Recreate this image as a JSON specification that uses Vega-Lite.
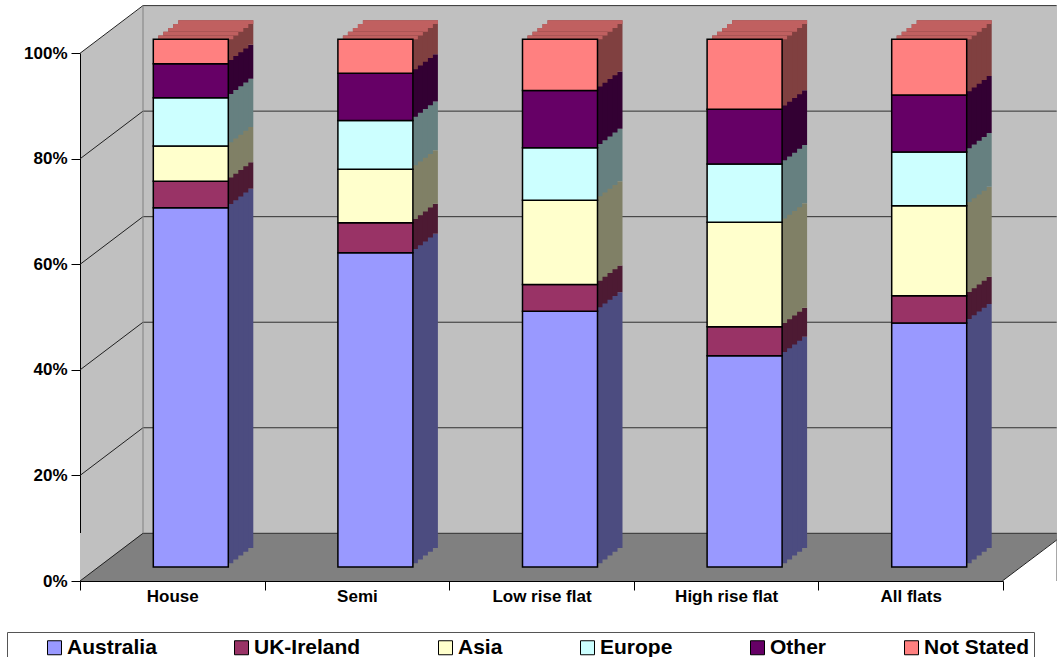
{
  "$schema": "https://vega.github.io/schema/vega-lite/v6.json",
  "width": 977,
  "height": 575,
  "autosize": {"type": "none"},
  "padding": {"left": 80, "top": 6, "right": 0, "bottom": 76},
  "background": "white",
  "config": {"view": {"fill": "#C0C0C0", "stroke": null}},
  "resolve": {"scale": {"color": "independent"}},
  "datasets": {
    "grid": [{"g": 0}, {"g": 0.2}, {"g": 0.4}, {"g": 0.6}, {"g": 0.8}, {"g": 1}]
  },
  "data": {"values": [
    {"type": "House", "region": "Australia", "pct": 68.07},
    {"type": "House", "region": "UK-Ireland", "pct": 5.01},
    {"type": "House", "region": "Asia", "pct": 6.69},
    {"type": "House", "region": "Europe", "pct": 9.16},
    {"type": "House", "region": "Other", "pct": 6.45},
    {"type": "House", "region": "Not Stated", "pct": 4.62},
    {"type": "Semi", "region": "Australia", "pct": 59.54},
    {"type": "Semi", "region": "UK-Ireland", "pct": 5.69},
    {"type": "Semi", "region": "Asia", "pct": 10.16},
    {"type": "Semi", "region": "Europe", "pct": 9.23},
    {"type": "Semi", "region": "Other", "pct": 8.97},
    {"type": "Semi", "region": "Not Stated", "pct": 6.41},
    {"type": "Low rise flat", "region": "Australia", "pct": 48.48},
    {"type": "Low rise flat", "region": "UK-Ireland", "pct": 5.06},
    {"type": "Low rise flat", "region": "Asia", "pct": 15.98},
    {"type": "Low rise flat", "region": "Europe", "pct": 9.92},
    {"type": "Low rise flat", "region": "Other", "pct": 10.88},
    {"type": "Low rise flat", "region": "Not Stated", "pct": 9.68},
    {"type": "High rise flat", "region": "Australia", "pct": 40.01},
    {"type": "High rise flat", "region": "UK-Ireland", "pct": 5.5},
    {"type": "High rise flat", "region": "Asia", "pct": 19.8},
    {"type": "High rise flat", "region": "Europe", "pct": 11.05},
    {"type": "High rise flat", "region": "Other", "pct": 10.37},
    {"type": "High rise flat", "region": "Not Stated", "pct": 13.27},
    {"type": "All flats", "region": "Australia", "pct": 46.26},
    {"type": "All flats", "region": "UK-Ireland", "pct": 5.12},
    {"type": "All flats", "region": "Asia", "pct": 17.06},
    {"type": "All flats", "region": "Europe", "pct": 10.18},
    {"type": "All flats", "region": "Other", "pct": 10.81},
    {"type": "All flats", "region": "Not Stated", "pct": 10.57}
  ]},
  "layer": [
    {
      "data": {"values": [{}]},
      "mark": {"type": "rect", "color": "#808080"},
      "encoding": {"y": {"datum": 0.0904}, "y2": {"datum": 0}}
    },
    {
      "data": {"values": [{}]},
      "mark": {"type": "point", "shape": "M-1,-1L1,-1L-1,0.524Z", "filled": true, "color": "#C0C0C0", "opacity": 1, "size": 3969, "strokeWidth": 0, "xOffset": -60.8, "yOffset": -16.5},
      "encoding": {"x": {"datum": "House"}, "y": {"datum": 0}}
    },
    {
      "data": {"values": [{}]},
      "mark": {"type": "point", "shape": "M-1,-1L1,-1L-1,0.5Z", "filled": true, "color": "white", "opacity": 1, "size": 3969, "strokeWidth": 0, "xOffset": -60.8, "yOffset": -15.8},
      "encoding": {"x": {"datum": "House"}, "y": {"datum": 1}}
    },
    {
      "data": {"values": [{}]},
      "mark": {"type": "point", "shape": "M-1,1L1,1L1,-0.519Z", "filled": true, "color": "white", "opacity": 1, "size": 2916, "strokeWidth": 0, "xOffset": 118.6, "yOffset": -27},
      "encoding": {"x": {"datum": "All flats"}, "y": {"datum": 0}}
    },
    {
      "data": {"name": "grid"},
      "mark": {"type": "rule", "color": "#303030", "strokeWidth": 1, "xOffset": -29.3, "x2Offset": 146, "yOffset": -47.7, "y2Offset": -47.7},
      "encoding": {"x": {"datum": "House"}, "x2": {"datum": "All flats"}, "y": {"field": "g", "type": "quantitative"}, "y2": {"field": "g"}}
    },
    {
      "data": {"name": "grid"},
      "mark": {"type": "rule", "color": "#202020", "strokeWidth": 1, "xOffset": -92.3, "x2Offset": -29.3, "yOffset": 0, "y2Offset": -47.7},
      "encoding": {"x": {"datum": "House"}, "x2": {"datum": "House"}, "y": {"field": "g", "type": "quantitative"}, "y2": {"field": "g"}}
    },
    {
      "data": {"values": [{}]},
      "mark": {"type": "rule", "color": "#808080", "strokeWidth": 1, "xOffset": -29.3, "yOffset": -47.7, "y2Offset": -47.7},
      "encoding": {"x": {"datum": "House"}, "y": {"datum": 0}, "y2": {"datum": 1}}
    },
    {
      "data": {"values": [{}]},
      "mark": {"type": "rule", "color": "#202020", "strokeWidth": 1, "xOffset": 91.6, "x2Offset": 146, "yOffset": 0, "y2Offset": -41},
      "encoding": {"x": {"datum": "All flats"}, "x2": {"datum": "All flats"}, "y": {"datum": 0}, "y2": {"datum": 0}}
    },
    {
      "mark": {"type": "bar", "width": 75, "xOffset": 43.5, "yOffset": -33, "y2Offset": -33},
      "encoding": {
        "x": {"field": "type", "type": "nominal", "sort": ["House", "Semi", "Low rise flat", "High rise flat", "All flats"]},
        "y": {"field": "pct", "type": "quantitative", "stack": "normalize"},
        "order": {"field": "type"},
        "color": {"field": "region", "type": "nominal", "legend": null,
          "scale": {"domain": ["Australia", "UK-Ireland", "Asia", "Europe", "Other", "Not Stated"], "range": ["#4C4C80", "#4D1A33", "#808066", "#668080", "#330033", "#804040"]}}
      }
    },
    {
      "transform": [{"filter": "datum.region === 'Not Stated'"}],
      "mark": {"type": "bar", "width": 75, "color": "#C06060", "xOffset": 43.5, "yOffset": -33, "y2Offset": -29.2},
      "encoding": {
        "x": {"field": "type", "type": "nominal", "sort": ["House", "Semi", "Low rise flat", "High rise flat", "All flats"]},
        "y": {"datum": 1}, "y2": {"datum": 1}
      }
    },
    {
      "mark": {"type": "bar", "width": 75, "xOffset": 38.5, "yOffset": -29.2, "y2Offset": -29.2},
      "encoding": {
        "x": {"field": "type", "type": "nominal", "sort": ["House", "Semi", "Low rise flat", "High rise flat", "All flats"]},
        "y": {"field": "pct", "type": "quantitative", "stack": "normalize"},
        "order": {"field": "type"},
        "color": {"field": "region", "type": "nominal", "legend": null,
          "scale": {"domain": ["Australia", "UK-Ireland", "Asia", "Europe", "Other", "Not Stated"], "range": ["#4C4C80", "#4D1A33", "#808066", "#668080", "#330033", "#804040"]}}
      }
    },
    {
      "transform": [{"filter": "datum.region === 'Not Stated'"}],
      "mark": {"type": "bar", "width": 75, "color": "#C06060", "xOffset": 38.5, "yOffset": -29.2, "y2Offset": -25.4},
      "encoding": {
        "x": {"field": "type", "type": "nominal", "sort": ["House", "Semi", "Low rise flat", "High rise flat", "All flats"]},
        "y": {"datum": 1}, "y2": {"datum": 1}
      }
    },
    {
      "mark": {"type": "bar", "width": 75, "xOffset": 33.5, "yOffset": -25.4, "y2Offset": -25.4},
      "encoding": {
        "x": {"field": "type", "type": "nominal", "sort": ["House", "Semi", "Low rise flat", "High rise flat", "All flats"]},
        "y": {"field": "pct", "type": "quantitative", "stack": "normalize"},
        "order": {"field": "type"},
        "color": {"field": "region", "type": "nominal", "legend": null,
          "scale": {"domain": ["Australia", "UK-Ireland", "Asia", "Europe", "Other", "Not Stated"], "range": ["#4C4C80", "#4D1A33", "#808066", "#668080", "#330033", "#804040"]}}
      }
    },
    {
      "transform": [{"filter": "datum.region === 'Not Stated'"}],
      "mark": {"type": "bar", "width": 75, "color": "#C06060", "xOffset": 33.5, "yOffset": -25.4, "y2Offset": -21.6},
      "encoding": {
        "x": {"field": "type", "type": "nominal", "sort": ["House", "Semi", "Low rise flat", "High rise flat", "All flats"]},
        "y": {"datum": 1}, "y2": {"datum": 1}
      }
    },
    {
      "mark": {"type": "bar", "width": 75, "xOffset": 28.5, "yOffset": -21.6, "y2Offset": -21.6},
      "encoding": {
        "x": {"field": "type", "type": "nominal", "sort": ["House", "Semi", "Low rise flat", "High rise flat", "All flats"]},
        "y": {"field": "pct", "type": "quantitative", "stack": "normalize"},
        "order": {"field": "type"},
        "color": {"field": "region", "type": "nominal", "legend": null,
          "scale": {"domain": ["Australia", "UK-Ireland", "Asia", "Europe", "Other", "Not Stated"], "range": ["#4C4C80", "#4D1A33", "#808066", "#668080", "#330033", "#804040"]}}
      }
    },
    {
      "transform": [{"filter": "datum.region === 'Not Stated'"}],
      "mark": {"type": "bar", "width": 75, "color": "#C06060", "xOffset": 28.5, "yOffset": -21.6, "y2Offset": -17.8},
      "encoding": {
        "x": {"field": "type", "type": "nominal", "sort": ["House", "Semi", "Low rise flat", "High rise flat", "All flats"]},
        "y": {"datum": 1}, "y2": {"datum": 1}
      }
    },
    {
      "mark": {"type": "bar", "width": 75, "xOffset": 23.5, "yOffset": -17.8, "y2Offset": -17.8},
      "encoding": {
        "x": {"field": "type", "type": "nominal", "sort": ["House", "Semi", "Low rise flat", "High rise flat", "All flats"]},
        "y": {"field": "pct", "type": "quantitative", "stack": "normalize"},
        "order": {"field": "type"},
        "color": {"field": "region", "type": "nominal", "legend": null,
          "scale": {"domain": ["Australia", "UK-Ireland", "Asia", "Europe", "Other", "Not Stated"], "range": ["#4C4C80", "#4D1A33", "#808066", "#668080", "#330033", "#804040"]}}
      }
    },
    {
      "transform": [{"filter": "datum.region === 'Not Stated'"}],
      "mark": {"type": "bar", "width": 75, "color": "#C06060", "xOffset": 23.5, "yOffset": -17.8, "y2Offset": -14},
      "encoding": {
        "x": {"field": "type", "type": "nominal", "sort": ["House", "Semi", "Low rise flat", "High rise flat", "All flats"]},
        "y": {"datum": 1}, "y2": {"datum": 1}
      }
    },
    {
      "mark": {"type": "bar", "width": 75, "xOffset": 18.5, "yOffset": -14, "y2Offset": -14, "stroke": "black", "strokeWidth": 1.5},
      "encoding": {
        "x": {"field": "type", "type": "nominal", "sort": ["House", "Semi", "Low rise flat", "High rise flat", "All flats"],
          "scale": {"domain": ["House", "Semi", "Low rise flat", "High rise flat", "All flats"], "range": [0, 923], "paddingInner": 0, "paddingOuter": 0},
          "axis": {"title": null, "labelAngle": 0, "labelAlign": "center", "tickBand": "extent", "tickSize": 9, "labelPadding": 6,
            "labelFont": "Liberation Sans", "labelFontSize": 17, "labelFontWeight": "bold", "labelColor": "black",
            "domainColor": "black", "tickColor": "black", "grid": false}},
        "y": {"field": "pct", "type": "quantitative", "stack": "normalize",
          "scale": {"domain": [0, 1], "range": [575, 47.3], "nice": false, "zero": false},
          "axis": {"title": null, "values": [0, 0.2, 0.4, 0.6, 0.8, 1], "format": ".0%", "grid": false, "tickSize": 9, "labelPadding": 4,
            "labelFont": "Liberation Sans", "labelFontSize": 17, "labelFontWeight": "bold", "labelColor": "black",
            "domainColor": "black", "tickColor": "black"}},
        "order": {"field": "type"},
        "color": {"field": "region", "type": "nominal", "sort": ["Australia", "UK-Ireland", "Asia", "Europe", "Other", "Not Stated"],
          "scale": {"domain": ["Australia", "UK-Ireland", "Asia", "Europe", "Other", "Not Stated"], "range": ["#9999FF", "#993366", "#FFFFCC", "#CCFFFF", "#660066", "#FF8080"]},
          "legend": {"orient": "none", "legendX": -73, "legendY": 626, "direction": "horizontal", "columns": 6,
            "title": "\u00a0", "titleOrient": "left", "titleFontSize": 1, "titlePadding": 32,
            "strokeColor": "#555555", "padding": 5, "symbolType": "square", "symbolSize": 196,
            "symbolStrokeColor": "black", "symbolStrokeWidth": 1,
            "labelFont": "Liberation Sans", "labelFontWeight": "bold", "labelFontSize": 21, "labelColor": "black",
            "labelOffset": 2, "columnPadding": 74,
            "labelExpr": "datum.label == 'Not Stated' ? 'Not Stated\u00a0\u00a0\u00a0\u00a0\u00a0' : datum.label"}}
      }
    }
  ]
}
